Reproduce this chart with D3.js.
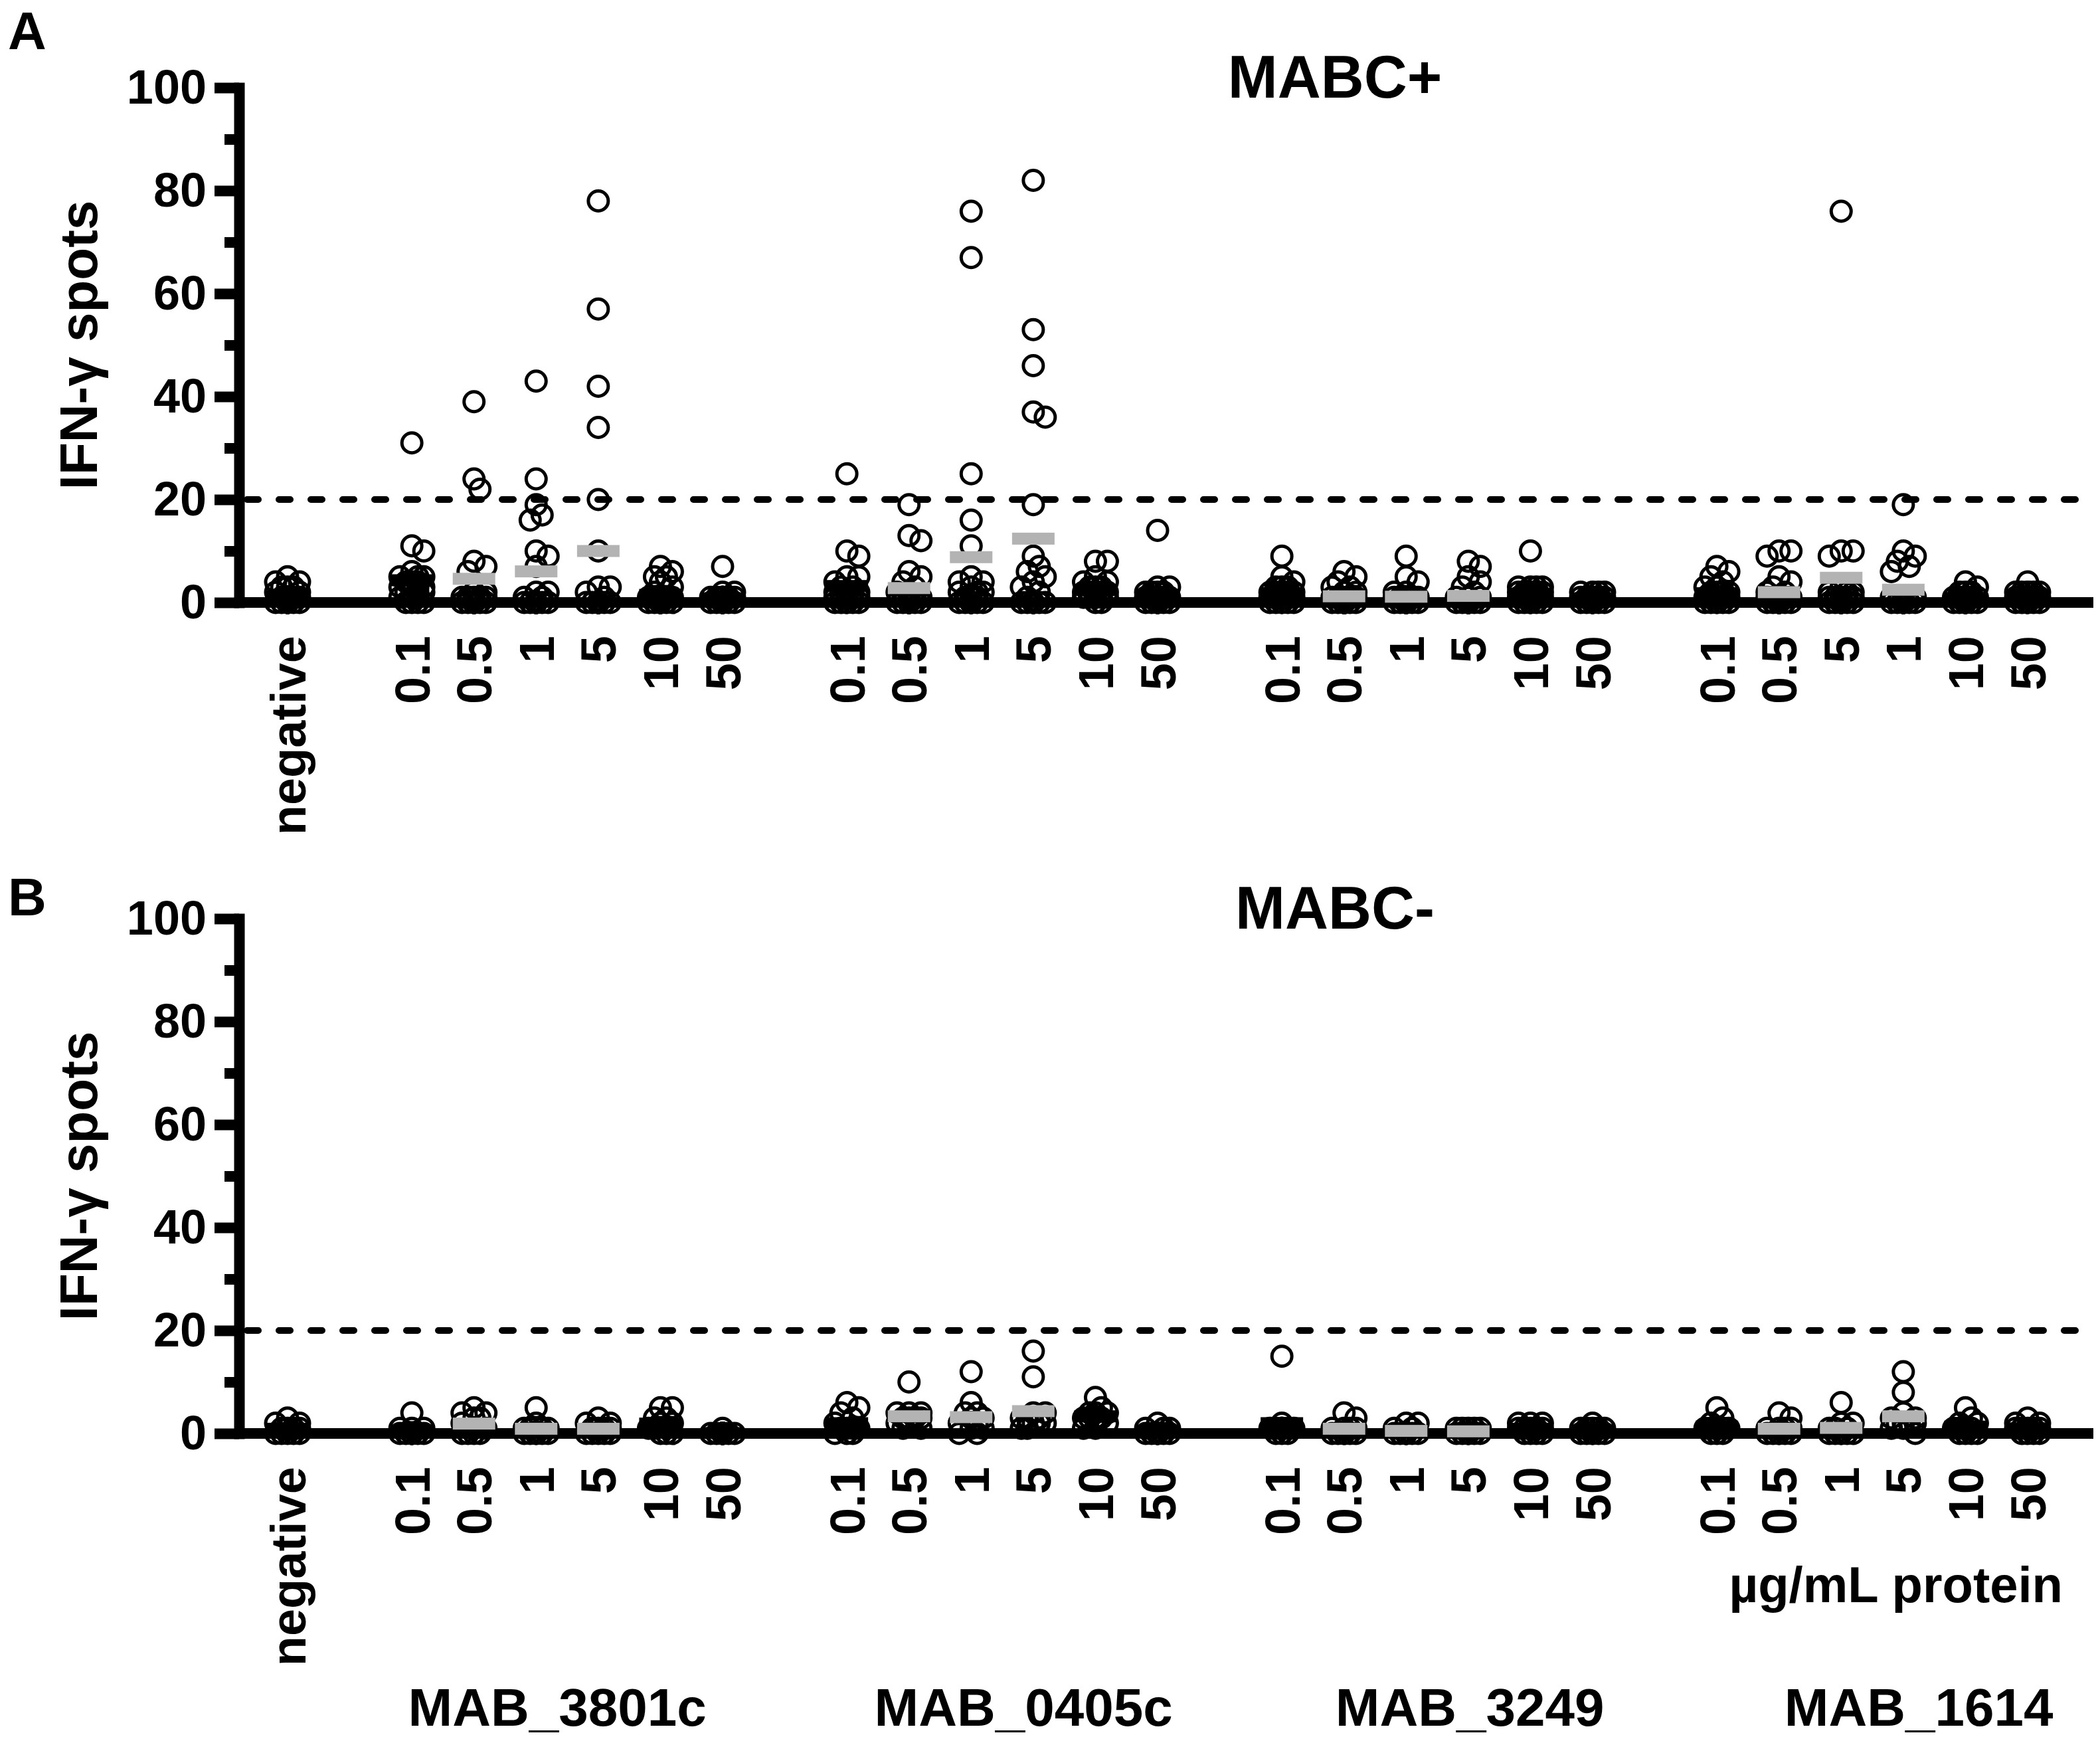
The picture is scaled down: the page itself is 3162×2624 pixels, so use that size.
<!DOCTYPE html>
<html>
<head>
<meta charset="utf-8">
<script src="https://cdn.jsdelivr.net/npm/d3@7"></script>
<style>
  body { margin: 0; background: #fff; }
  text { font-family: "Liberation Sans", Arial, sans-serif; font-weight: bold; fill: #000; }
</style>
</head>
<body>
<svg id="chart" width="3162" height="2624"></svg>
<script>
// ---- data (IFN-gamma spots per subject) ----
var groups = ['MAB_3801c', 'MAB_0405c', 'MAB_3249', 'MAB_1614'];
var dosesStd = ['0.1', '0.5', '1', '5', '10', '50'];
var dosesPlus1614 = ['0.1', '0.5', '5', '1', '10', '50'];
var grayDoses = ['0.5', '1', '5'];
var yTicks = [0, 20, 40, 60, 80, 100];
var yMinorTicks = [10, 30, 50, 70, 90];
var cutoff = 20;

// MABC+ panel
var plusNegative = [5,4,4,3,3,3,2,2,1,1,1,1,0,0,0,0,0,0,0,0,0,0,0,0,0];
var plus3801c = [
  [31,11,10,6,5,5,5,4,4,4,3,3,3,3,2,2,2,2,1,1,1,0,0,0,0],
  [39,24,22,8,7,6,2,2,1,1,1,1,1,0,0,0,0,0,0,0,0,0,0,0,0],
  [43,24,19,17,16,10,9,7,2,2,1,1,0,0,0,0,0,0,0,0,0,0,0,0,0],
  [78,57,42,34,20,10,3,3,2,1,0,0,0,0,0,0,0,0,0,0,0,0,0,0,0],
  [7,6,5,5,4,3,2,1,1,1,1,1,0,0,0,0,0,0,0,0,0,0,0,0,0],
  [7,2,2,1,1,1,1,1,1,1,1,1,0,0,0,0,0,0,0,0,0,0,0,0,0]
];
var plus0405c = [
  [25,10,9,5,5,4,3,3,2,2,2,2,2,1,1,1,1,1,1,0,0,0,0,0,0],
  [19,13,12,6,5,4,3,2,2,1,1,1,1,0,0,0,0,0,0,0,0,0,0,0,0],
  [76,67,25,16,11,5,4,4,3,2,2,2,1,1,1,0,0,0,0,0,0,0,0,0,0],
  [82,53,46,37,36,19,9,7,6,5,4,3,2,1,0,0,0,0,0,0,0,0,0,0,0],
  [8,8,5,4,4,3,3,3,2,2,2,2,2,2,2,1,1,1,1,1,1,1,1,0,0],
  [14,3,3,2,2,2,2,1,1,1,1,1,1,1,0,0,0,0,0,0,0,0,0,0,0]
];
var plus3249 = [
  [9,5,4,3,3,3,2,2,2,2,2,1,1,1,1,1,1,1,1,0,0,0,0,0,0],
  [6,5,4,3,3,2,2,1,1,1,1,1,0,0,0,0,0,0,0,0,0,0,0,0,0],
  [9,5,4,2,2,1,1,1,1,1,1,0,0,0,0,0,0,0,0,0,0,0,0,0,0],
  [8,7,5,4,3,2,1,1,1,0,0,0,0,0,0,0,0,0,0,0,0,0,0,0,0],
  [10,3,3,3,3,2,2,2,2,2,2,2,1,1,1,1,1,1,0,0,0,0,0,0,0],
  [2,2,2,2,1,1,1,1,1,1,1,1,1,1,1,1,0,0,0,0,0,0,0,0,0]
];
var plus1614 = [
  [7,6,5,4,3,3,2,2,2,2,1,1,1,1,1,1,1,1,1,0,0,0,0,0,0],
  [10,10,9,5,4,3,2,2,1,1,1,1,1,0,0,0,0,0,0,0,0,0,0,0,0],
  [76,10,10,9,3,2,2,2,1,1,1,1,1,1,0,0,0,0,0,0,0,0,0,0,0],
  [19,10,9,8,7,6,1,1,1,0,0,0,0,0,0,0,0,0,0,0,0,0,0,0,0],
  [4,3,2,2,2,1,1,1,1,1,1,1,1,1,0,0,0,0,0,0,0,0,0,0,0],
  [4,2,2,2,2,2,2,1,1,1,1,1,1,1,1,1,1,1,0,0,0,0,0,0,0]
];

// MABC- panel
var minusNegative = [3,2,2,1,1,1,1,0,0,0,0,0];
var minus3801c = [
  [4,1,1,1,0,0,0,0,0,0,0,0],
  [5,4,4,3,3,2,1,1,0,0,0,0],
  [5,2,1,1,1,1,0,0,0,0,0,0],
  [3,2,2,1,1,1,1,0,0,0,0,0],
  [5,5,3,3,2,2,1,1,1,0,0,0],
  [1,0,0,0,0,0,0,0,0,0,0,0]
];
var minus0405c = [
  [6,5,4,3,2,1,1,1,1,0,0,0],
  [10,4,4,4,3,3,3,3,2,2,1,1],
  [12,6,4,4,3,3,2,2,1,1,0,0],
  [16,11,4,4,3,3,3,2,2,2,1,1],
  [7,5,4,4,4,3,3,3,3,2,1,1],
  [2,1,1,1,0,0,0,0,0,0,0,0]
];
var minus3249 = [
  [15,2,1,1,1,1,1,1,1,0,0,0],
  [4,3,1,1,1,1,0,0,0,0,0,0],
  [2,2,1,1,0,0,0,0,0,0,0,0],
  [1,1,1,1,1,0,0,0,0,0,0,0],
  [2,2,2,1,1,1,1,1,0,0,0,0],
  [2,1,1,1,1,1,0,0,0,0,0,0]
];
var minus1614 = [
  [5,3,2,1,1,1,1,1,1,0,0,0],
  [4,3,1,1,1,1,0,0,0,0,0,0],
  [6,2,2,1,1,1,0,0,0,0,0,0],
  [12,8,4,3,3,2,2,2,2,1,1,0],
  [5,3,2,2,1,1,1,1,0,0,0,0],
  [3,2,2,1,1,1,1,1,0,0,0,0]
];

// ---- layout ----
var svg = d3.select('#chart');
svg.append('rect').attr('width', 3162).attr('height', 2624).attr('fill', '#fff');

var axisX = 360;      // y axis position
var axisRight = 3152; // end of the x axis line
var radius = 15;
var barW = 64, barH = 18;
var lineW = 16;
var gray = '#b3b3b3';
var groupLabelNudge = [-15, 32, 49, 70];

// slot 0 = negative, one empty slot between groups
var x = d3.scaleLinear().domain([0, 28]).range([433, 3053]);
function slotOf(g, i) { return 2 + 7 * g + i; }

// simple swarm so identical values spread sideways like in Prism
function swarm(values, cx, y) {
    var placed = [];
    var offs = [0, 9, -9, 18, -18];
    return values.map(function (v) {
        var py = y(v);
        var best = cx, bestD = -1;
        for (var k = 0; k < offs.length; k++) {
            var px = cx + offs[k];
            var d = Infinity;
            placed.forEach(function (p) { d = Math.min(d, Math.hypot(p[0] - px, p[1] - py)); });
            if (d >= radius * 1.1) { best = px; break; }
            if (d > bestD) { bestD = d; best = px; }
        }
        placed.push([best, py]);
        return { x: best, y: py };
    });
}

function drawPanel(p) {
    var y = d3.scaleLinear().domain([0, 100]).range([p.y0, p.y100]);
    var g = svg.append('g');

    // panel letter and title
    g.append('text').attr('x', 12).attr('y', p.letterY).attr('font-size', 80).text(p.letter);
    g.append('text').attr('x', 2010).attr('y', p.y100 + 15).attr('text-anchor', 'middle')
        .attr('font-size', 90).text(p.title);

    // y axis title
    g.append('text')
        .attr('transform', 'translate(146,' + ((p.y0 + p.y100) / 2) + ') rotate(-90)')
        .attr('text-anchor', 'middle').attr('font-size', 80).text('IFN-γ spots');

    // cutoff line
    g.append('line')
        .attr('x1', axisX + 12).attr('x2', axisRight - 8)
        .attr('y1', y(cutoff)).attr('y2', y(cutoff))
        .attr('stroke', '#000').attr('stroke-width', 10)
        .attr('stroke-linecap', 'round').attr('stroke-dasharray', '17 31');

    // y axis, major + minor ticks
    var yAxis = g.append('g').attr('transform', 'translate(' + axisX + ',0)')
        .call(d3.axisLeft(y).tickValues(yTicks).tickSize(37).tickSizeOuter(0).tickPadding(12));
    yAxis.select('.domain').attr('stroke-width', lineW).attr('stroke-linecap', 'square');
    yAxis.selectAll('.tick line').attr('stroke-width', lineW);
    yAxis.selectAll('.tick text').attr('font-size', 72)
        .style('font-family', '"Liberation Sans", Arial, sans-serif').style('font-weight', 'bold');

    var yMinor = g.append('g').attr('transform', 'translate(' + axisX + ',0)')
        .call(d3.axisLeft(y).tickValues(yMinorTicks).tickSize(22).tickFormat(''));
    yMinor.select('.domain').remove();
    yMinor.selectAll('.tick line').attr('stroke-width', lineW);

    // x axis line
    g.append('line')
        .attr('x1', axisX).attr('x2', axisRight)
        .attr('y1', y(0)).attr('y2', y(0))
        .attr('stroke', '#000').attr('stroke-width', lineW);

    // columns: negative + 4 groups x 6 doses
    var cols = [{ slot: 0, label: 'negative', values: p.negative, gray: false }];
    p.series.forEach(function (s, gi) {
        s.forEach(function (vals, i) {
            cols.push({ slot: slotOf(gi, i), label: p.doses[gi][i], values: vals,
                gray: grayDoses.indexOf(p.doses[gi][i]) >= 0 });
        });
    });

    cols.forEach(function (c) {
        var cx = x(c.slot);
        var pts = swarm(c.values, cx, y);
        g.append('g').selectAll('circle').data(pts).enter().append('circle')
            .attr('cx', function (d) { return d.x; })
            .attr('cy', function (d) { return d.y; })
            .attr('r', radius)
            .attr('fill', 'none').attr('stroke', '#000').attr('stroke-width', 5);

        var m = d3.mean(c.values);
        g.append('rect')
            .attr('x', cx - barW / 2).attr('y', y(m) - barH / 2)
            .attr('width', barW).attr('height', barH)
            .attr('fill', c.gray ? gray : '#000');

        g.append('text')
            .attr('transform', 'translate(' + cx + ',' + (p.y0 + 50) + ') rotate(-90)')
            .attr('text-anchor', 'end').attr('dy', '0.36em')
            .attr('font-size', 74).text(c.label);
    });
}

drawPanel({
    letter: 'A', letterY: 74, title: 'MABC+', y0: 907, y100: 132,
    negative: plusNegative,
    series: [plus3801c, plus0405c, plus3249, plus1614],
    doses: [dosesStd, dosesStd, dosesStd, dosesPlus1614]
});

drawPanel({
    letter: 'B', letterY: 1378, title: 'MABC-', y0: 2158, y100: 1383,
    negative: minusNegative,
    series: [minus3801c, minus0405c, minus3249, minus1614],
    doses: [dosesStd, dosesStd, dosesStd, dosesStd]
});

// bottom annotations
svg.append('text').attr('x', 3106).attr('y', 2412).attr('text-anchor', 'end')
    .attr('font-size', 76).text('µg/mL protein');

svg.append('g').selectAll('text').data(groups).enter().append('text')
    .attr('x', function (d, i) { return x(slotOf(i, 2.5)) + groupLabelNudge[i]; })
    .attr('y', 2598).attr('text-anchor', 'middle').attr('font-size', 80)
    .text(function (d) { return d; });
</script>
</body>
</html>
